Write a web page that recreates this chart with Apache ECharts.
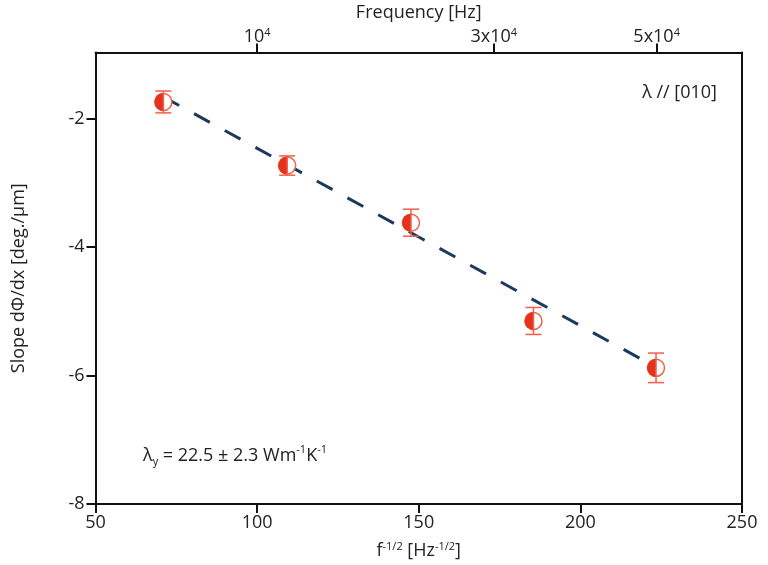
<!DOCTYPE html>
<html>
<head>
<meta charset="utf-8">
<script src="https://cdn.jsdelivr.net/npm/echarts@6/dist/echarts.min.js"></script>
<style>html,body{margin:0;padding:0;background:#fff;}#c{width:768px;height:565px;}</style>
</head>
<body>
<div id="c"></div>
<script>
var xValues = [71.0, 109.3, 147.6, 185.5, 223.4];
var yValues = [-1.74, -2.73, -3.62, -5.15, -5.88];
var yErrors = [0.17, 0.15, 0.21, 0.21, 0.23];
var fitX = [71.0, 223.4];
var fitY = [-1.66, -5.87];
var bottomTicks = [50, 100, 150, 200, 250];
var leftTicks = [-8, -6, -4, -2];
var topTickPos = [100, 173.2, 223.6];
var topTickLabels = ['10{s|4}', '3x10{s|4}', '5x10{s|4}'];

var RED = '#e5321b', ERR = '#ef5f49', NAVY = '#1b3a5c', TXT = '#222';
var FONT = '"Open Sans", sans-serif';
var FS = 18;

var pts = xValues.map(function(x, i){ return [x, yValues[i], yErrors[i]]; });
var fit = fitX.map(function(x, i){ return [x, fitY[i]]; });

var chart = echarts.init(document.getElementById('c'));
chart.setOption({
  animation: false,
  textStyle: {fontFamily: FONT},
  grid: {left: 95.5, right: 26, top: 52.5, bottom: 61, outerBoundsMode: 'none', containLabel: false},
  xAxis: [{
    type: 'value', position: 'bottom', min: 50, max: 250,
    name: 'f{s|-1/2} [Hz{s|-1/2}]', nameLocation: 'middle', nameGap: 37,
    nameTextStyle: {color: TXT, fontSize: FS, fontFamily: FONT, rich: {s: {fontSize: 11, fontFamily: FONT, verticalAlign: 'top', padding: [0,0,9,0], color: TXT}}},
    axisLine: {show: true, onZero: false, lineStyle: {color: '#111', width: 2}},
    axisTick: {show: true, length: 9, lineStyle: {color: '#111', width: 2}, customValues: bottomTicks},
    axisLabel: {color: TXT, fontSize: FS, margin: 10, customValues: bottomTicks},
    splitLine: {show: false}
  }, {
    type: 'value', position: 'top', min: 50, max: 250,
    name: 'Frequency [Hz]', nameLocation: 'middle', nameGap: 31,
    nameTextStyle: {color: TXT, fontSize: FS},
    axisLine: {show: true, onZero: false, lineStyle: {color: '#111', width: 2}},
    axisTick: {show: true, length: 9, lineStyle: {color: '#111', width: 2}, customValues: topTickPos},
    axisLabel: {color: TXT, fontSize: FS, margin: 6, customValues: topTickPos,
      rich: {s: {fontSize: 11, fontFamily: FONT, verticalAlign: 'top', padding: [0,0,8,0], color: TXT}},
      formatter: function(v){ for (var i=0;i<topTickPos.length;i++){ if (Math.abs(v-topTickPos[i])<0.01) return topTickLabels[i]; } return ''; }},
    splitLine: {show: false}
  }],
  yAxis: [{
    type: 'value', position: 'left', min: -8, max: -0.97,
    name: 'Slope d\u03A6/dx [deg./\u00B5m]', nameLocation: 'middle', nameGap: 68, nameRotate: 90,
    nameTextStyle: {color: TXT, fontSize: FS},
    axisLine: {show: true, onZero: false, lineStyle: {color: '#111', width: 2}},
    axisTick: {show: true, length: 9, lineStyle: {color: '#111', width: 2}, customValues: leftTicks},
    axisLabel: {color: TXT, fontSize: FS, margin: 11, customValues: leftTicks},
    splitLine: {show: false}
  }, {
    type: 'value', position: 'right', min: -8, max: -0.97,
    axisLine: {show: true, onZero: false, lineStyle: {color: '#111', width: 2}},
    axisTick: {show: false}, axisLabel: {show: false}, splitLine: {show: false}
  }],
  series: [{
    type: 'line', data: fit, xAxisIndex: 0, yAxisIndex: 0, symbol: 'none', z: 2,
    lineStyle: {color: NAVY, width: 3, type: [18, 17]}
  }, {
    type: 'custom', data: pts, xAxisIndex: 0, yAxisIndex: 0, z: 5,
    renderItem: function(params, api){
      var x = api.value(0), y = api.value(1), e = api.value(2);
      var c = api.coord([x, y]);
      var t = api.coord([x, y + e]), b = api.coord([x, y - e]);
      var r = 8.5, cap = 8;
      var es = {stroke: ERR, lineWidth: 1.5};
      return {type: 'group', children: [
        {type: 'circle', shape: {cx: c[0], cy: c[1], r: r}, style: {fill: '#fff', stroke: ERR, lineWidth: 1.5}},
        {type: 'sector', shape: {cx: c[0], cy: c[1], r0: 0, r: r + 0.5, startAngle: Math.PI/2, endAngle: Math.PI*3/2, clockwise: true}, style: {fill: RED}},
        {type: 'line', shape: {x1: c[0], y1: t[1], x2: c[0], y2: b[1]}, style: es},
        {type: 'line', shape: {x1: c[0]-cap, y1: t[1], x2: c[0]+cap, y2: t[1]}, style: es},
        {type: 'line', shape: {x1: c[0]-cap, y1: b[1], x2: c[0]+cap, y2: b[1]}, style: es}
      ]};
    }
  }],
  graphic: [{
    type: 'text', x: 717, y: 93,
    style: {text: '\u03BB // [010]', fill: TXT, fontSize: FS, fontFamily: FONT, align: 'right', verticalAlign: 'middle'}
  }, {
    type: 'text', x: 143, y: 456,
    style: {
      text: '\u03BB{sub|y} = 22.5 \u00B1 2.3 Wm{sup|-1}K{sup|-1}',
      fill: TXT, fontSize: FS, fontFamily: FONT, align: 'left', verticalAlign: 'middle',
      rich: {
        sub: {fontSize: 11, fontFamily: FONT, fill: TXT, verticalAlign: 'bottom', padding: [12,0,0,0]},
        sup: {fontSize: 11, fontFamily: FONT, fill: TXT, verticalAlign: 'top', padding: [0,0,9,0]}
      }
    }
  }]
});
</script>
</body>
</html>
